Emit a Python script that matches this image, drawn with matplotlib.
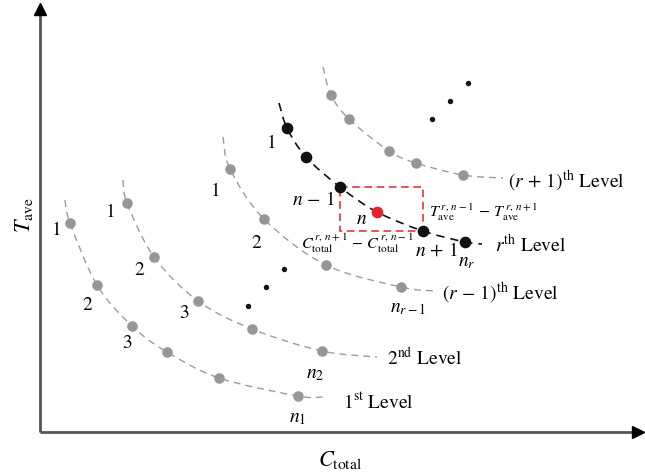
import numpy as np
import matplotlib
matplotlib.use("Agg")
import matplotlib.pyplot as plt
from matplotlib.path import Path
from matplotlib.patches import PathPatch, Rectangle

plt.rcParams['font.family'] = ['STIXGeneral', 'DejaVu Serif']
plt.rcParams['mathtext.fontset'] = 'stix'

# ---- data (in picture coordinates) ----
# 1st level
l1_x = [70, 97, 132, 167, 219, 298]
l1_y = [223, 285, 326, 352, 378, 396]
l1_ends = [(65, 200), (323, 397)]
# 2nd level
l2_x = [127, 154, 198, 252, 322]
l2_y = [203, 257, 301, 329, 351]
l2_ends = [(123, 180), (377, 357)]
# (r-1)th level
l3_x = [230, 264, 326, 401]
l3_y = [169, 219, 265, 287]
l3_ends = [(223, 137), (436, 291)]
# r-th level (index 3 is the red point n)
lr_x = [287, 306, 340, 377, 423, 465]
lr_y = [128, 157, 187, 212, 231, 242]
lr_ends = [(279, 103), (482, 244)]
# (r+1)th level
lr1_x = [331, 349, 389, 416, 463]
lr1_y = [95, 119, 151, 163, 175]
lr1_ends = [(323, 67), (503, 178)]
# ellipsis dots
dots1_x = [248, 266, 284]
dots1_y = [306, 287, 269]
dots2_x = [432, 450, 468]
dots2_y = [119, 101, 83]

level_labels = [r'$1^{\mathrm{st}}$ Level', r'$2^{\mathrm{nd}}$ Level',
                r'$(r\,-\,1)^{\mathrm{th}}$ Level', r'$r^{\mathrm{th}}$ Level',
                r'$(r\,+\,1)^{\mathrm{th}}$ Level']

GRAY_PT = '#969696'
GRAY_LN = '#9c9c9c'

fig = plt.figure(figsize=(6.45, 4.76), dpi=100)
ax = fig.add_axes([0, 0, 1, 1])
ax.set_xlim(0, 645)
ax.set_ylim(476, 0)
ax.axis('off')


def smooth_curve(xs, ys, ends, color, lw=1.0, dash=(0, (5, 3.6))):
    pts = [ends[0]] + list(zip(xs, ys)) + [ends[1]]
    P = np.array(pts, dtype=float)
    n = len(P)
    verts = [P[0]]
    codes = [Path.MOVETO]
    for i in range(n - 1):
        p0 = P[i - 1] if i > 0 else P[i]
        p1 = P[i]
        p2 = P[i + 1]
        p3 = P[i + 2] if i + 2 < n else P[i + 1]
        c1 = p1 + (p2 - p0) / 6.0
        c2 = p2 - (p3 - p1) / 6.0
        verts += [c1, c2, p2]
        codes += [Path.CURVE4] * 3
    patch = PathPatch(Path(verts, codes), fill=False, edgecolor=color,
                      lw=lw, linestyle=dash, zorder=2)
    ax.add_patch(patch)


# axes arrows
ax.plot([40, 40], [432, 12], color='#555555', lw=2.0, solid_capstyle='butt', zorder=1)
ax.plot([40, 636], [432, 432], color='#555555', lw=2.0, solid_capstyle='butt', zorder=1)
ax.plot([40], [9], marker='^', color='black', markersize=9, zorder=3)
ax.plot([638], [432], marker='>', color='black', markersize=9, zorder=3)
ax.text(24, 215, r'$T_{\mathrm{ave}}$', rotation=90, fontsize=16,
        ha='center', va='center')
ax.text(340, 460, r'$C_{\mathrm{total}}$', fontsize=16, ha='center', va='center')

# gray levels
for xs, ys, ends in [(l1_x, l1_y, l1_ends), (l2_x, l2_y, l2_ends),
                     (l3_x, l3_y, l3_ends), (lr1_x, lr1_y, lr1_ends)]:
    smooth_curve(xs, ys, ends, GRAY_LN)
    ax.plot(xs, ys, 'o', color=GRAY_PT, markersize=7.6, markeredgewidth=0, zorder=4)

# r-th level
smooth_curve(lr_x, lr_y, lr_ends, '#111111', lw=1.2, dash=(0, (5, 3.6)))
black_idx = [0, 1, 2, 4, 5]
ax.plot([lr_x[i] for i in black_idx], [lr_y[i] for i in black_idx], 'o',
        color='#111111', markersize=8.4, markeredgewidth=0, zorder=5)
ax.plot([lr_x[3]], [lr_y[3]], 'o', color='#e5232b', markersize=8.4,
        markeredgewidth=0, zorder=5)

# red rectangle between n-1 and n+1
rect = Rectangle((lr_x[2], lr_y[2]), lr_x[4] - lr_x[2], lr_y[4] - lr_y[2],
                 fill=False, edgecolor='#e5232b', lw=1.1,
                 linestyle=(0, (5, 3)), zorder=3)
ax.add_patch(rect)

# ellipsis dots
ax.plot(dots1_x, dots1_y, 'o', color='#111111', markersize=3.9, markeredgewidth=0, zorder=4)
ax.plot(dots2_x, dots2_y, 'o', color='#111111', markersize=3.9, markeredgewidth=0, zorder=4)

FS = 14
# point labels
for s, x, y in [('1', 57, 230), ('2', 87, 305), ('3', 127, 343),
                ('1', 111, 212), ('2', 139, 270), ('3', 184, 313),
                ('1', 216, 191), ('2', 256, 243), ('1', 272, 143)]:
    ax.text(x, y, s, fontsize=FS, ha='center', va='center')

for s, x, y in [(r'$n_1$', 298, 418), (r'$n_2$', 315, 374),
                (r'$n_{r-1}$', 408, 308), (r'$n_r$', 467, 262),
                (r'$n\,-\,1$', 314, 200), (r'$n$', 362, 219), (r'$n\,+\,1$', 437, 251)]:
    ax.text(x, y, s, fontsize=FS, ha='center', va='center')

# level labels
for s, x, y in zip(level_labels, [343, 387, 442, 495, 508], [402, 358, 293, 245, 181]):
    ax.text(x, y, s, fontsize=FS, ha='left', va='center')

# difference labels
ax.text(429, 212, r'$T^{\,r,\,n-1}_{\mathrm{ave}}\,-\,T^{\,r,\,n+1}_{\mathrm{ave}}$',
        fontsize=11.5, ha='left', va='center')
ax.text(357, 243, r'$C^{\,r,\,n+1}_{\mathrm{total}}\,-\,C^{\,r,\,n-1}_{\mathrm{total}}$',
        fontsize=11.5, ha='center', va='center')

fig.savefig('out.png', dpi=100)
